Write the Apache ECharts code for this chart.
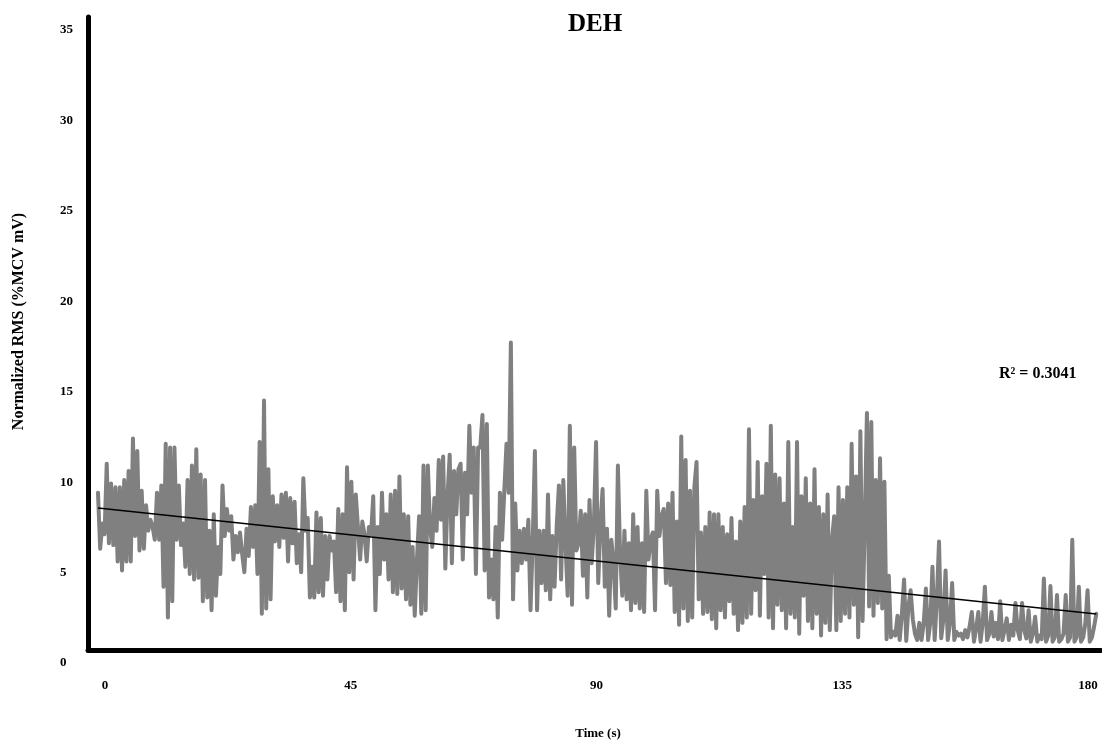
<!DOCTYPE html>
<html><head><meta charset="utf-8">
<script src="https://cdn.jsdelivr.net/npm/echarts@6/dist/echarts.min.js"></script>
<style>html,body{margin:0;padding:0;background:#fff}#c{width:1102px;height:745px}</style>
</head><body><div id="c"></div>
<script>
const chartTitle = 'DEH';
const xTitle = 'Time (s)';
const yTitle = 'Normalized RMS (%MCV mV)';
const xTickValues = [0, 45, 90, 135, 180];
const yTickValues = [0, 5, 10, 15, 20, 25, 30, 35];
const timeStep = 0.4; // seconds between samples
const rmsValues = [
  8.7, 5.6, 7.0, 6.4, 10.3, 5.9, 9.2, 5.8, 9.0, 4.9, 9.0, 4.4, 9.4, 4.9, 9.9, 4.9, 11.7, 6.3, 11.0, 5.5, 8.8, 5.6, 8.0, 6.6, 7.2,
  6.8, 6.1, 8.7, 6.1, 9.1, 3.5, 11.4, 1.8, 11.2, 2.7, 11.2, 6.1, 9.1, 5.8, 7.0, 4.6, 9.4, 4.2, 10.2, 3.9, 11.1, 4.0, 9.7, 2.7, 9.4,
  2.9, 6.6, 2.2, 7.5, 3.0, 5.7, 4.2, 9.1, 6.3, 7.8, 6.6, 7.4, 5.0, 6.3, 5.4, 6.5, 5.3, 4.3, 6.7, 5.2, 7.9, 5.7, 8.0, 4.2, 11.5,
  2.0, 13.8, 2.3, 10.0, 2.8, 8.5, 6.0, 8.0, 5.7, 8.6, 6.2, 8.7, 4.9, 8.4, 5.9, 8.2, 4.8, 6.4, 4.3, 9.5, 6.6, 7.3, 2.9, 4.6, 2.9,
  7.6, 3.2, 7.3, 3.0, 6.3, 3.9, 6.3, 5.5, 6.0, 3.2, 7.8, 2.7, 7.5, 2.2, 10.1, 4.3, 9.3, 3.9, 8.6, 6.8, 5.0, 7.1, 6.4, 4.9, 6.8,
  6.4, 8.5, 2.2, 6.8, 4.2, 8.7, 5.0, 7.5, 3.9, 8.6, 3.2, 8.8, 3.1, 9.6, 3.4, 7.5, 2.8, 7.4, 2.5, 5.7, 1.9, 5.0, 7.4, 2.0, 10.2,
  2.2, 10.2, 6.8, 5.7, 8.4, 6.6, 10.5, 7.2, 10.7, 4.5, 8.5, 10.8, 4.8, 9.9, 7.5, 10.0, 10.3, 5.0, 9.8, 7.5, 12.4, 8.7, 11.2, 4.2, 11.2,
  11.2, 13.0, 4.4, 12.5, 2.9, 5.0, 2.8, 6.8, 1.8, 8.7, 6.1, 8.8, 11.4, 8.7, 17.0, 2.8, 8.1, 4.4, 6.6, 4.8, 6.7, 5.0, 7.2, 2.2, 6.0,
  11.0, 2.2, 6.6, 3.7, 6.6, 3.3, 8.6, 2.8, 6.3, 3.5, 6.9, 9.1, 3.9, 9.4, 5.9, 3.0, 12.4, 2.5, 11.2, 5.5, 5.9, 7.7, 4.1, 7.5, 2.9,
  8.3, 4.8, 6.9, 11.5, 3.7, 7.0, 8.9, 3.5, 6.7, 1.9, 6.1, 4.8, 2.3, 10.2, 5.3, 3.0, 6.6, 2.8, 5.9, 2.2, 7.5, 2.6, 6.8, 2.3, 5.9,
  2.1, 8.8, 5.0, 6.1, 6.5, 2.2, 8.8, 6.3, 7.4, 7.8, 3.7, 8.1, 3.6, 8.7, 2.1, 7.1, 1.4, 11.8, 2.3, 10.5, 1.6, 8.8, 1.8, 9.0, 10.4,
  2.8, 6.5, 2.0, 6.8, 2.1, 7.6, 1.7, 7.5, 1.2, 7.5, 2.2, 6.8, 1.8, 6.4, 2.7, 7.3, 2.0, 6.0, 1.1, 7.1, 1.5, 7.9, 1.8, 12.2, 2.0,
  8.3, 3.3, 10.4, 1.9, 8.5, 4.2, 10.3, 1.8, 12.4, 1.2, 9.7, 2.5, 9.5, 2.2, 8.1, 1.2, 11.5, 2.0, 6.8, 1.8, 11.5, 0.9, 8.5, 3.0, 9.5,
  1.6, 8.1, 1.2, 10.0, 2.0, 7.9, 0.8, 7.5, 1.5, 8.6, 1.1, 6.1, 7.4, 1.1, 9.0, 1.6, 8.3, 2.0, 9.0, 1.8, 11.4, 2.5, 9.6, 0.7, 12.1,
  1.6, 7.0, 13.1, 2.4, 12.6, 1.9, 9.4, 2.6, 10.6, 2.3, 9.3, 0.6, 4.1, 0.7, 1.0, 0.8, 1.9, 0.55, 2.0, 3.9, 0.5, 2.4, 3.3, 1.7, 0.9,
  0.55, 1.5, 0.55, 1.5, 3.4, 0.55, 1.5, 4.6, 0.55, 2.8, 6.0, 0.65, 1.7, 4.4, 0.55, 1.5, 3.7, 0.55, 1.0, 0.8, 0.9, 0.6, 1.1, 0.7, 1.3,
  2.1, 0.46, 1.2, 2.1, 0.46, 1.5, 3.5, 0.55, 0.9, 2.1, 0.74, 1.5, 0.6, 2.7, 0.55, 1.1, 1.75, 0.55, 1.4, 0.8, 2.6, 1.1, 0.6, 2.6, 1.1,
  0.64, 2.2, 0.46, 0.9, 1.84, 0.46, 0.8, 0.6, 3.96, 0.46, 0.8, 3.54, 0.46, 0.7, 3.04, 0.46, 0.6, 0.9, 3.04, 0.46, 0.7, 6.1, 0.46, 0.7, 3.5,
  0.46, 0.7, 1.5, 3.3, 0.46, 0.7, 1.3, 2.0
];
const trendLine = [[0, 7.85], [182.8, 1.99]]; // linear fit endpoints
const rSquaredLabel = 'R\u00b2 = 0.3041';

const seriesData = rmsValues.map((v, i) => [Math.round(i * timeStep * 100) / 100, v]);
const FONT = '"Liberation Serif", "Times New Roman", serif';
const txt = (size) => ({ fontFamily: FONT, fontWeight: 'bold', fontSize: size, color: '#000' });

const chart = echarts.init(document.getElementById('c'), null, { renderer: 'canvas' });
chart.setOption({
  animation: false,
  backgroundColor: '#ffffff',
  title: { text: chartTitle, left: 563, top: 7, textStyle: txt(25) },
  grid: { left: 88, right: 1, top: 17, bottom: 95, containLabel: false },
  xAxis: {
    type: 'value', min: -1.83, max: 183.66,
    name: xTitle, nameLocation: 'middle', nameGap: 77,
    nameTextStyle: Object.assign({ padding: [0, 0, 0, 7] }, txt(13)),
    axisLine: { show: true, onZero: false, lineStyle: { color: '#000', width: 5 } },
    axisTick: { show: false }, splitLine: { show: false },
    axisLabel: Object.assign({ customValues: xTickValues, margin: 29, padding: [0, 0, 0, 14] }, txt(13))
  },
  yAxis: {
    type: 'value', min: 0, max: 35, interval: 5,
    name: yTitle, nameLocation: 'middle', nameRotate: 90, nameGap: 61,
    nameTextStyle: Object.assign({ padding: [0, 0, 0, 24] }, txt(16)),
    axisLine: { show: true, onZero: false, lineStyle: { color: '#000', width: 5 } },
    axisTick: { show: false }, splitLine: { show: false },
    axisLabel: Object.assign({ customValues: yTickValues, align: 'left', verticalAlign: 'top', lineHeight: 26, margin: 28 }, txt(13))
  },
  series: [
    { type: 'line', data: seriesData, showSymbol: false, sampling: null, z: 2,
      lineStyle: { color: '#808080', width: 4, join: 'round', cap: 'round' } },
    { type: 'line', data: trendLine, showSymbol: false, z: 3,
      lineStyle: { color: '#000', width: 1.5 } }
  ],
  graphic: [
    { type: 'text', left: 999, top: 366, z: 10,
      style: { text: rSquaredLabel, font: 'bold 16px "Liberation Serif", "Times New Roman", serif', fill: '#000' } }
  ]
});
</script>
</body></html>
